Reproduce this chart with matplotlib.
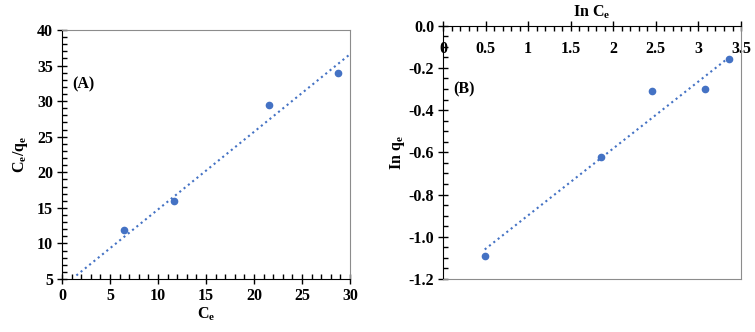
import matplotlib
matplotlib.use("Agg")
import matplotlib.pyplot as plt
from matplotlib.ticker import MultipleLocator, FormatStrFormatter

# ---- data ----
ce = [6.5, 11.7, 21.6, 28.8]
ce_qe = [11.9, 15.9, 29.4, 33.9]
fit_a_x = [1.5, 30.0]
fit_a_y = [5.5, 36.6]

ln_ce = [0.49, 1.85, 2.46, 3.08, 3.36]
ln_qe = [-1.09, -0.62, -0.31, -0.30, -0.16]
fit_b_x = [0.49, 3.36]
fit_b_y = [-1.06, -0.15]

blue = '#4472C4'
grey = '#8c8c8c'

plt.rcParams['font.family'] = ['Liberation Serif']
plt.rcParams['font.weight'] = 'bold'
plt.rcParams['axes.labelweight'] = 'bold'
plt.rcParams['axes.unicode_minus'] = False
plt.rcParams['mathtext.fontset'] = 'custom'
plt.rcParams['mathtext.rm'] = 'Liberation Serif:bold'
plt.rcParams['mathtext.it'] = 'Liberation Serif:bold'
plt.rcParams['mathtext.bf'] = 'Liberation Serif:bold'

fig = plt.figure(figsize=(7.55, 3.32), dpi=100)
ax1 = fig.add_axes([0.0821, 0.1596, 0.3815, 0.750])
ax2 = fig.add_axes([0.5868, 0.1596, 0.3947, 0.7630])

fs = 11.5

# --- Panel A ---
ax1.plot(ce, ce_qe, 'o', color=blue, markersize=4.5)
ax1.plot(fit_a_x, fit_a_y, ':', color=blue, linewidth=1.5)
ax1.set_xlim(0, 30)
ax1.set_ylim(5, 40)
ax1.xaxis.set_major_locator(MultipleLocator(5))
ax1.xaxis.set_minor_locator(MultipleLocator(1))
ax1.yaxis.set_major_locator(MultipleLocator(5))
ax1.yaxis.set_minor_locator(MultipleLocator(1))
ax1.tick_params(which='major', direction='inout', length=7, width=1, labelsize=fs, pad=3)
ax1.tick_params(which='minor', direction='in', length=3.5, width=1)
ax1.tick_params(top=False, right=False, which='both')
for s in ['top', 'right']:
    ax1.spines[s].set_color(grey)
for s in ['left', 'bottom']:
    ax1.spines[s].set_color('black')
ax1.set_xlabel(r'C$_\mathrm{e}$', fontsize=fs, fontweight='bold', labelpad=1)
ax1.set_ylabel(r'C$_\mathrm{e}$/q$_\mathrm{e}$', fontsize=fs, fontweight='bold', labelpad=5)
ax1.text(0.035, 0.78, '(A)', transform=ax1.transAxes, fontsize=fs,
         fontweight='bold', va='center', ha='left')

# --- Panel B ---
ax2.plot(ln_ce, ln_qe, 'o', color=blue, markersize=4.5)
ax2.plot(fit_b_x, fit_b_y, ':', color=blue, linewidth=1.5)
ax2.set_xlim(0, 3.5)
ax2.set_ylim(-1.2, 0.0)
ax2.xaxis.set_major_locator(MultipleLocator(0.5))
ax2.xaxis.set_minor_locator(MultipleLocator(0.1))
ax2.xaxis.set_major_formatter(FormatStrFormatter('%g'))
ax2.yaxis.set_major_locator(MultipleLocator(0.2))
ax2.yaxis.set_minor_locator(MultipleLocator(0.05))
ax2.yaxis.set_major_formatter(FormatStrFormatter('%.1f'))
ax2.xaxis.set_ticks_position('top')
ax2.xaxis.set_label_position('top')
ax2.tick_params(which='major', direction='inout', length=7, width=1, labelsize=fs, pad=3)
ax2.tick_params(which='minor', direction='in', length=3.5, width=1)
ax2.tick_params(axis='x', which='both', top=True, bottom=False, labeltop=True, labelbottom=False)
ax2.tick_params(axis='x', which='major', pad=-26)
ax2.tick_params(axis='y', which='both', right=False)
for s in ['bottom', 'right']:
    ax2.spines[s].set_color(grey)
for s in ['left', 'top']:
    ax2.spines[s].set_color('black')
ax2.set_xlabel(r'In C$_\mathrm{e}$', fontsize=fs, fontweight='bold', labelpad=3)
ax2.set_ylabel(r'In q$_\mathrm{e}$', fontsize=fs, fontweight='bold', labelpad=1)
ax2.text(0.034, 0.75, '(B)', transform=ax2.transAxes, fontsize=fs,
         fontweight='bold', va='center', ha='left')

fig.savefig('out.png', dpi=100)
